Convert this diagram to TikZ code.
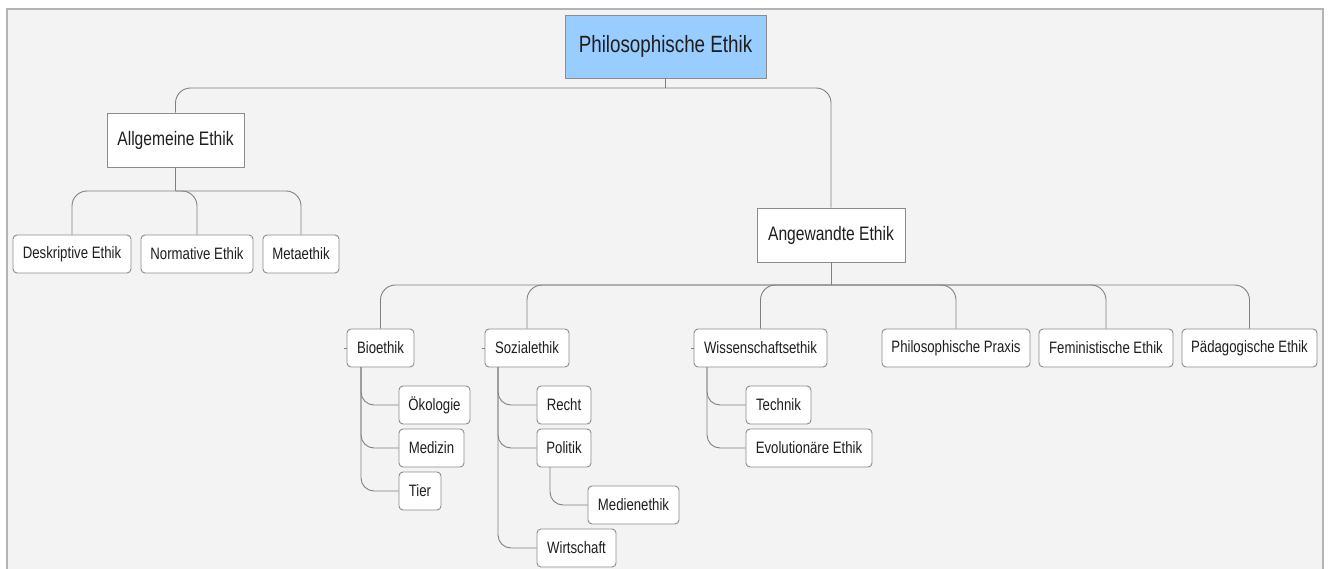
\documentclass[tikz,border=0pt]{standalone}
\usepackage{fontspec}
\setmainfont[FakeStretch=0.8]{Liberation Sans}
\definecolor{boxline}{HTML}{8C8C8C}
\definecolor{connline}{HTML}{808080}
\definecolor{rootblue}{HTML}{99CCFF}
\definecolor{panel}{HTML}{F3F3F3}
\definecolor{panelline}{HTML}{B4B4B4}
\definecolor{txt}{HTML}{1E1E1E}
\begin{document}
\begin{tikzpicture}[x=1pt,y=-1pt,
  box/.style={draw=boxline, fill=white, line width=0.9pt, rounded corners=4pt, inner sep=0pt,
    minimum height=38pt, font=\fontsize{16.5}{18}\selectfont, text=txt},
  sharpbox/.style={box, rounded corners=0pt, minimum height=54pt, font=\fontsize{19.5}{22}\selectfont},
  rootbox/.style={sharpbox, fill=rootblue, minimum height=63pt, font=\fontsize{23.5}{26}\selectfont},
  conn/.style={draw=connline, line width=0.9pt, rounded corners=15pt},
  subconn/.style={draw=connline, line width=0.9pt, rounded corners=13pt},
  stub/.style={draw=connline, line width=0.9pt}]
\useasboundingbox (0,0) rectangle (1330,569);
\fill[white] (0,0) rectangle (1330,569);
\fill[panel] (7,9) rectangle (1323,575);
\draw[panelline, line width=1.2pt] (7,575) -- (7,9) -- (1323,9) -- (1323,575);

% nodes
\node[rootbox, minimum width=201pt] (root) at (665.5,46.5) {Philosophische Ethik};
\node[sharpbox, minimum width=137pt] (allg) at (175.5,140) {Allgemeine Ethik};
\node[sharpbox, minimum width=148pt] (ang) at (831,235) {Angewandte Ethik};

\node[box, minimum width=118pt] (desk) at (72,254) {Deskriptive Ethik};
\node[box, minimum width=112pt] (norm) at (197,254) {Normative Ethik};
\node[box, minimum width=76pt] (meta) at (301,254) {Metaethik};

\node[box, minimum width=67pt] (bio) at (380.5,348) {Bioethik};
\node[box, minimum width=84pt] (soz) at (527,348) {Sozialethik};
\node[box, minimum width=133pt] (wis) at (760.5,348) {Wissenschaftsethik};
\node[box, minimum width=148pt] (pra) at (956,348) {Philosophische Praxis};
\node[box, minimum width=134pt] (fem) at (1106,348) {Feministische Ethik};
\node[box, minimum width=135pt] (pad) at (1249.5,348) {Pädagogische Ethik};

\node[box, minimum width=71pt] (oko) at (434.5,405) {Ökologie};
\node[box, minimum width=65pt] (med) at (431.5,448) {Medizin};
\node[box, minimum width=42pt] (tier) at (420,491) {Tier};

\node[box, minimum width=54pt] (recht) at (564,405) {Recht};
\node[box, minimum width=54pt] (pol) at (564,448) {Politik};
\node[box, minimum width=91pt] (medien) at (633.5,505) {Medienethik};
\node[box, minimum width=79pt] (wirt) at (576.5,548) {Wirtschaft};

\node[box, minimum width=65pt] (tech) at (778.5,405) {Technik};
\node[box, minimum width=126pt] (evo) at (809,448) {Evolutionäre Ethik};

% junctions
\coordinate (rj) at (665.5,88);
\coordinate (aj) at (175.5,191);
\coordinate (gj) at (831,285);
\coordinate (bioV) at (361,367);
\coordinate (sozV) at (498,367);
\coordinate (wisV) at (707,367);
\coordinate (polV) at (550,467);

% connectors
\draw[stub] (root.south) -- (rj);
\draw[conn] (rj) -| (allg.north);
\draw[conn] (rj) -| (ang.north);

\draw[stub] (allg.south) -- (aj);
\draw[conn] (aj) -| (desk.north);
\draw[conn] (aj) -| (norm.north);
\draw[conn] (aj) -| (meta.north);

\draw[stub] (ang.south) -- (gj);
\draw[conn] (gj) -| (bio.north);
\draw[conn] (gj) -| (soz.north);
\draw[conn] (gj) -| (wis.north);
\draw[conn] (gj) -| (pra.north);
\draw[conn] (gj) -| (fem.north);
\draw[conn] (gj) -| (pad.north);

\draw[subconn] (bioV) |- (oko.west);
\draw[subconn] (bioV) |- (med.west);
\draw[subconn] (bioV) |- (tier.west);

\draw[subconn] (sozV) |- (recht.west);
\draw[subconn] (sozV) |- (pol.west);
\draw[subconn] (sozV) |- (wirt.west);
\draw[subconn] (polV) |- (medien.west);

\draw[subconn] (wisV) |- (tech.west);
\draw[subconn] (wisV) |- (evo.west);

\draw[stub] (bio.west) -- ++(-3,0);
\draw[stub] (soz.west) -- ++(-3,0);
\draw[stub] (wis.west) -- ++(-3,0);
\end{tikzpicture}
\end{document}
